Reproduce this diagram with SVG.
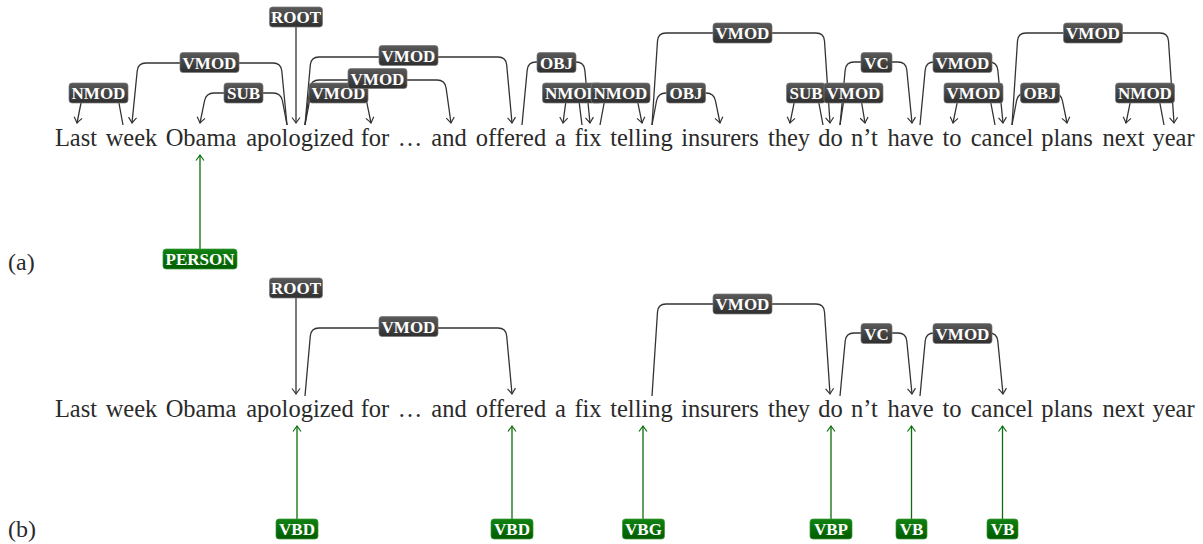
<svg xmlns="http://www.w3.org/2000/svg" width="1203" height="544" viewBox="0 0 1203 544">
<style>
.w{font-family:'Liberation Serif',serif;font-size:24.5px;fill:#2a2a2a;text-anchor:middle}
.cap{font-family:'Liberation Serif',serif;font-size:24px;fill:#2a2a2a}
.lab rect{fill:url(#gd);stroke:#7a7a7a;stroke-width:0.7}
.tag rect{fill:url(#gg);stroke:#3a9a3a;stroke-width:0.7}
.lab text,.tag text{font-family:'Liberation Serif',serif;font-weight:bold;font-size:17px;fill:#fff;text-anchor:middle}
.dep path{fill:none;stroke:#333;stroke-width:1.3;marker-end:url(#ah)}
.pos path{fill:none;stroke:#0a6e0a;stroke-width:1.3;marker-end:url(#ag)}
</style>
<defs>
<linearGradient id="gd" x1="0" y1="0" x2="0" y2="1"><stop offset="0" stop-color="#5a5a5a"/><stop offset="1" stop-color="#2f2f2f"/></linearGradient>
<linearGradient id="gg" x1="0" y1="0" x2="0" y2="1"><stop offset="0" stop-color="#128212"/><stop offset="1" stop-color="#005c00"/></linearGradient>
<marker id="ah" viewBox="-7 -5 8 10" markerWidth="8" markerHeight="10" refX="0" refY="0" orient="auto" markerUnits="userSpaceOnUse"><path d="M-5.5,-4 Q-1.5,-1 0,0 Q-1.5,1 -5.5,4" fill="none" stroke="#333" stroke-width="1.2"/></marker>
<marker id="ag" viewBox="-7 -5 8 10" markerWidth="8" markerHeight="10" refX="0" refY="0" orient="auto" markerUnits="userSpaceOnUse"><path d="M-5.5,-4 Q-1.5,-1 0,0 Q-1.5,1 -5.5,4" fill="none" stroke="#0a6e0a" stroke-width="1.2"/></marker>
</defs>

<g id="connectors">
<g class="dep">
<path d="M123,125 L118.6,101 Q117,93 109,93 L91,93 Q83,93 81.4,101 L77,123"/>
<path d="M287,125 L281.8,71 Q281,63 273,63 L146,63 Q138,63 137.2,71 L132,123"/>
<path d="M287,125 L282.5,101 Q281,93 273,93 L214,93 Q206,93 204.5,101 L200,123"/>
<path d="M296,27 L296,123"/>
<path d="M305,125 L309.5,101 Q311,93 319,93 L357,93 Q365,93 366.5,101 L371,123"/>
<path d="M305,125 L309.9,88 Q311,80 319,80 L437,80 Q445,80 446.1,88 L451,123"/>
<path d="M305,125 L310.3,65 Q311,57 319,57 L498,57 Q506,57 506.7,65 L512,123"/>
<path d="M522,125 L527.2,70 Q528,62 536,62 L576,62 Q584,62 584.8,70 L590,123"/>
<path d="M582,125 L578.4,96 Q578,93 575,93 L570,93 Q567,93 566.6,96 L563,123"/>
<path d="M600,125 L604.5,101 Q606,93 614,93 L628,93 Q636,93 637.5,101 L642,123"/>
<path d="M652,125 L657.5,41 Q658,33 666,33 L816,33 Q824,33 824.5,41 L830,123"/>
<path d="M652,125 L656.5,101 Q658,93 666,93 L706,93 Q714,93 715.5,101 L720,123"/>
<path d="M823,125 L818.5,101 Q817,93 809,93 L804,93 Q796,93 794.5,101 L790,123"/>
<path d="M840,125 L844.3,97 Q845,93 849,93 L856,93 Q860,93 860.7,97 L865,123"/>
<path d="M840,125 L845.2,70 Q846,62 854,62 L898,62 Q906,62 906.8,70 L912,123"/>
<path d="M920,125 L925.2,70 Q926,62 934,62 L989,62 Q997,62 997.8,70 L1003,123"/>
<path d="M995,125 L990.5,101 Q989,93 981,93 L967,93 Q959,93 957.5,101 L953,123"/>
<path d="M1012,125 L1016.5,101 Q1018,93 1026,93 L1053,93 Q1061,93 1062.5,101 L1067,123"/>
<path d="M1012,125 L1017.5,41 Q1018,33 1026,33 L1160,33 Q1168,33 1168.5,41 L1174,123"/>
<path d="M1164,125 L1159.5,101 Q1158,93 1150,93 L1140,93 Q1132,93 1130.5,101 L1126,123"/>
<path d="M296,298 L296,394"/>
<path d="M305,396 L310.3,336 Q311,328 319,328 L498,328 Q506,328 506.7,336 L512,394"/>
<path d="M652,396 L657.5,312 Q658,304 666,304 L816,304 Q824,304 824.5,312 L830,394"/>
<path d="M840,396 L845.2,341 Q846,333 854,333 L898,333 Q906,333 906.8,341 L912,394"/>
<path d="M920,396 L925.2,341 Q926,333 934,333 L989,333 Q997,333 997.8,341 L1003,394"/>
</g>
<g class="pos">
<path d="M200,249 L200,155"/>
<path d="M297,519 L297,426"/>
<path d="M512,519 L512,426"/>
<path d="M643,519 L643,426"/>
<path d="M831,519 L831,426"/>
<path d="M911.5,519 L911.5,426"/>
<path d="M1002.5,519 L1002.5,426"/>
</g>
</g>

<g id="captions">
<text class="cap" x="8" y="270">(a)</text>
<text class="cap" x="8" y="537">(b)</text>
</g>

<g id="sentence-a">
<g id="a-w1"><text class="w" x="76" y="146">Last</text></g>
<g id="a-w2"><text class="w" x="131.5" y="146">week</text></g>
<g id="a-w3"><text class="w" x="201" y="146">Obama</text></g>
<g id="a-w4"><text class="w" x="300" y="146">apologized</text></g>
<g id="a-w5"><text class="w" x="375" y="146">for</text></g>
<g id="a-w6"><text class="w" x="410" y="146">…</text></g>
<g id="a-w7"><text class="w" x="449" y="146">and</text></g>
<g id="a-w8"><text class="w" x="511" y="146">offered</text></g>
<g id="a-w9"><text class="w" x="560.5" y="146">a</text></g>
<g id="a-w10"><text class="w" x="588" y="146">fix</text></g>
<g id="a-w11"><text class="w" x="641.5" y="146">telling</text></g>
<g id="a-w12"><text class="w" x="720" y="146">insurers</text></g>
<g id="a-w13"><text class="w" x="789" y="146">they</text></g>
<g id="a-w14"><text class="w" x="830.5" y="146">do</text></g>
<g id="a-w15"><text class="w" x="864.5" y="146">n’t</text></g>
<g id="a-w16"><text class="w" x="910.5" y="146">have</text></g>
<g id="a-w17"><text class="w" x="952" y="146">to</text></g>
<g id="a-w18"><text class="w" x="1002" y="146">cancel</text></g>
<g id="a-w19"><text class="w" x="1067" y="146">plans</text></g>
<g id="a-w20"><text class="w" x="1123.5" y="146">next</text></g>
<g id="a-w21"><text class="w" x="1173.5" y="146">year</text></g>
</g>

<g id="sentence-b">
<g id="b-w1"><text class="w" x="76" y="417">Last</text></g>
<g id="b-w2"><text class="w" x="131.5" y="417">week</text></g>
<g id="b-w3"><text class="w" x="201" y="417">Obama</text></g>
<g id="b-w4"><text class="w" x="300" y="417">apologized</text></g>
<g id="b-w5"><text class="w" x="375" y="417">for</text></g>
<g id="b-w6"><text class="w" x="410" y="417">…</text></g>
<g id="b-w7"><text class="w" x="449" y="417">and</text></g>
<g id="b-w8"><text class="w" x="511" y="417">offered</text></g>
<g id="b-w9"><text class="w" x="560.5" y="417">a</text></g>
<g id="b-w10"><text class="w" x="588" y="417">fix</text></g>
<g id="b-w11"><text class="w" x="641.5" y="417">telling</text></g>
<g id="b-w12"><text class="w" x="720" y="417">insurers</text></g>
<g id="b-w13"><text class="w" x="789" y="417">they</text></g>
<g id="b-w14"><text class="w" x="830.5" y="417">do</text></g>
<g id="b-w15"><text class="w" x="864.5" y="417">n’t</text></g>
<g id="b-w16"><text class="w" x="910.5" y="417">have</text></g>
<g id="b-w17"><text class="w" x="952" y="417">to</text></g>
<g id="b-w18"><text class="w" x="1002" y="417">cancel</text></g>
<g id="b-w19"><text class="w" x="1067" y="417">plans</text></g>
<g id="b-w20"><text class="w" x="1123.5" y="417">next</text></g>
<g id="b-w21"><text class="w" x="1173.5" y="417">year</text></g>
</g>

<g id="labels-a">
<g id="a-root" class="lab"><rect x="269.5" y="7" width="53" height="20" rx="3"/><text x="296" y="23">ROOT</text></g>
<g id="a-nmod1" class="lab"><rect x="69" y="83" width="59" height="20" rx="3"/><text x="98.5" y="99">NMOD</text></g>
<g id="a-vmod1" class="lab"><rect x="180" y="52.5" width="59" height="20" rx="3"/><text x="209.5" y="68.5">VMOD</text></g>
<g id="a-sub1" class="lab"><rect x="224" y="83" width="39" height="20" rx="3"/><text x="243.5" y="99">SUB</text></g>
<g id="a-vmod2" class="lab"><rect x="309" y="83" width="59" height="20" rx="3"/><text x="338.5" y="99">VMOD</text></g>
<g id="a-vmod3" class="lab"><rect x="348" y="68.5" width="59" height="20" rx="3"/><text x="377.5" y="84.5">VMOD</text></g>
<g id="a-vmod4" class="lab"><rect x="379" y="45.5" width="59" height="20" rx="3"/><text x="408.5" y="61.5">VMOD</text></g>
<g id="a-obj1" class="lab"><rect x="537" y="52.5" width="39" height="20" rx="3"/><text x="556.5" y="68.5">OBJ</text></g>
<g id="a-nmod2" class="lab"><rect x="542.5" y="83" width="59" height="20" rx="3"/><text x="572" y="99">NMOD</text></g>
<g id="a-nmod3" class="lab"><rect x="591" y="83" width="59" height="20" rx="3"/><text x="620.5" y="99">NMOD</text></g>
<g id="a-vmod5" class="lab"><rect x="713" y="23" width="59" height="20" rx="3"/><text x="742.5" y="39">VMOD</text></g>
<g id="a-obj2" class="lab"><rect x="666.5" y="83" width="39" height="20" rx="3"/><text x="686" y="99">OBJ</text></g>
<g id="a-sub2" class="lab"><rect x="786.5" y="83" width="39" height="20" rx="3"/><text x="806" y="99">SUB</text></g>
<g id="a-vmod6" class="lab"><rect x="824" y="83" width="59" height="20" rx="3"/><text x="853.5" y="99">VMOD</text></g>
<g id="a-vc" class="lab"><rect x="861" y="52.5" width="31" height="20" rx="3"/><text x="876.5" y="68.5">VC</text></g>
<g id="a-vmod7" class="lab"><rect x="933" y="52.5" width="59" height="20" rx="3"/><text x="962.5" y="68.5">VMOD</text></g>
<g id="a-vmod8" class="lab"><rect x="944" y="83" width="59" height="20" rx="3"/><text x="973.5" y="99">VMOD</text></g>
<g id="a-obj3" class="lab"><rect x="1020.5" y="83" width="39" height="20" rx="3"/><text x="1040" y="99">OBJ</text></g>
<g id="a-vmod9" class="lab"><rect x="1063.5" y="23" width="59" height="20" rx="3"/><text x="1093" y="39">VMOD</text></g>
<g id="a-nmod4" class="lab"><rect x="1115.5" y="83" width="59" height="20" rx="3"/><text x="1145" y="99">NMOD</text></g>
<g id="a-person" class="tag"><rect x="163" y="249" width="74" height="20" rx="3"/><text x="200" y="265">PERSON</text></g>
</g>

<g id="labels-b">
<g id="b-root" class="lab"><rect x="269.5" y="278" width="53" height="20" rx="3"/><text x="296" y="294">ROOT</text></g>
<g id="b-vmod1" class="lab"><rect x="379" y="316.5" width="59" height="20" rx="3"/><text x="408.5" y="332.5">VMOD</text></g>
<g id="b-vmod2" class="lab"><rect x="713" y="294" width="59" height="20" rx="3"/><text x="742.5" y="310">VMOD</text></g>
<g id="b-vc" class="lab"><rect x="861" y="323.5" width="31" height="20" rx="3"/><text x="876.5" y="339.5">VC</text></g>
<g id="b-vmod3" class="lab"><rect x="933" y="323.5" width="59" height="20" rx="3"/><text x="962.5" y="339.5">VMOD</text></g>
<g id="b-vbd1" class="tag"><rect x="276" y="519" width="42" height="20" rx="3"/><text x="297" y="535">VBD</text></g>
<g id="b-vbd2" class="tag"><rect x="491" y="519" width="42" height="20" rx="3"/><text x="512" y="535">VBD</text></g>
<g id="b-vbg" class="tag"><rect x="622.5" y="519" width="42" height="20" rx="3"/><text x="643.5" y="535">VBG</text></g>
<g id="b-vbp" class="tag"><rect x="810" y="519" width="42" height="20" rx="3"/><text x="831" y="535">VBP</text></g>
<g id="b-vb1" class="tag"><rect x="896" y="519" width="31" height="20" rx="3"/><text x="911.5" y="535">VB</text></g>
<g id="b-vb2" class="tag"><rect x="987" y="519" width="31" height="20" rx="3"/><text x="1002.5" y="535">VB</text></g>
</g>
</svg>
